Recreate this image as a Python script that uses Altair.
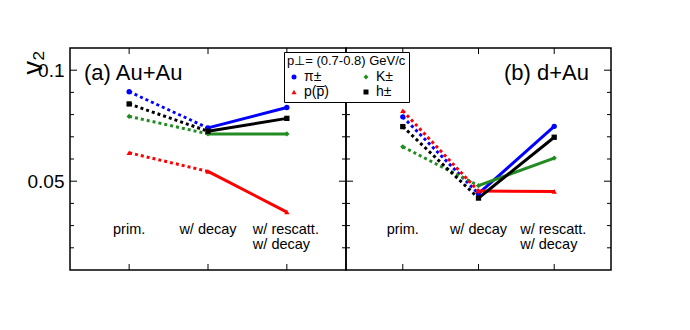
import altair as alt
import pandas as pd

stages = ["prim.", "w/ decay", "w/ rescatt."]
stage_text = ["prim.", "w/ decay", "w/ rescatt.\nw/ decay"]
species = ["π±", "K±", "p(p̅)", "h±"]
colors = ["#0000ff", "#228b22", "#ff0000", "#000000"]
shapes = ["circle", "diamond", "triangle-up", "square"]

auau_pi = [0.0903, 0.0740, 0.0832]
auau_K = [0.0792, 0.0713, 0.0713]
auau_p = [0.0628, 0.0544, 0.0361]
auau_h = [0.0848, 0.0725, 0.0783]

dau_pi = [0.0790, 0.0444, 0.0747]
dau_K = [0.0655, 0.0480, 0.0604]
dau_p = [0.0817, 0.0456, 0.0454]
dau_h = [0.0746, 0.0424, 0.0698]

y_ticks = [0.02, 0.03, 0.04, 0.05, 0.06, 0.07, 0.08, 0.09, 0.10]
y_major = [0.05, 0.10]

FONT = "Liberation Sans"
H = 222


def make_df(series):
    rows = []
    for sp, vals in zip(species, series):
        for st, v in zip(stages, vals):
            rows.append({"species": sp, "stage": st, "v2": v, "idx": stages.index(st)})
    return pd.DataFrame(rows)


df_a = make_df([auau_pi, auau_K, auau_p, auau_h])
df_b = make_df([dau_pi, dau_K, dau_p, dau_h])
stage_df = pd.DataFrame({"stage": stages, "label": stage_text})
tick_df = pd.DataFrame({"v2": y_ticks, "major": [v in y_major for v in y_ticks]})


def panel(df, W, title, title_x, show_axis, show_legend):
    xs = alt.X("stage:N", scale=alt.Scale(domain=stages, padding=0.5), axis=None)
    ysc = alt.Scale(domain=[0.01, 0.11], nice=False, zero=False)
    if show_axis:
        yax = alt.Axis(values=y_major, format="~g", ticks=False, domain=False, grid=False,
                       labelFont=FONT, labelFontSize=19, labelColor="black", labelPadding=6,
                       title="v₂", titleFont=FONT, titleFontSize=27, titleFontWeight="normal",
                       titleAngle=270, titleX=-37, titleY=14, titleAlign="center",
                       titleBaseline="middle", titleColor="black")
    else:
        yax = None
    ys = alt.Y("v2:Q", scale=ysc, axis=yax)
    if show_legend:
        leg = alt.Legend(title="p⊥= (0.7-0.8) GeV/c", orient="none", legendX=-62, legendY=4,
                         direction="horizontal", columns=2, columnPadding=30, rowPadding=1,
                         padding=3, strokeColor="black", fillColor="white", cornerRadius=0,
                         labelExpr="datum.label == 'π±' ? 'π±\u00a0\u00a0' : datum.label",
                         titleFont=FONT, titleFontSize=13, titleFontWeight="normal",
                         titleColor="black", titlePadding=2, labelFont=FONT, labelFontSize=14,
                         labelColor="black", symbolSize=25, labelOffset=3, symbolStrokeWidth=0)
    else:
        leg = None
    col = alt.Color("species:N", scale=alt.Scale(domain=species, range=colors), legend=leg)
    shp = alt.Shape("species:N", scale=alt.Scale(domain=species, range=shapes), legend=leg)

    base = alt.Chart(df)
    dashed = base.transform_filter("datum.idx <= 1").mark_line(strokeWidth=3, strokeDash=[3, 3]).encode(
        x=xs, y=ys, color=col, detail="species:N")
    solid = base.transform_filter("datum.idx >= 1").mark_line(strokeWidth=3).encode(
        x=xs, y=ys, color=col, detail="species:N")
    pts = base.mark_point(filled=True, size=28, opacity=1).encode(x=xs, y=ys, color=col, shape=shp)

    lab1 = alt.Chart(stage_df).transform_filter("datum.stage != 'w/ rescatt.'").mark_text(
        font=FONT, fontSize=14.5, baseline="top", align="center", color="black").encode(
        x=xs, y=alt.value(175), text="label:N")
    lab2 = alt.Chart(stage_df).transform_filter("datum.stage == 'w/ rescatt.'").mark_text(
        font=FONT, fontSize=14.5, baseline="top", align="left", dx=-34, lineBreak="\n",
        lineHeight=15, color="black").encode(
        x=xs, y=alt.value(175), text="label:N")

    top_t = alt.Chart(stage_df).mark_rule(color="black", strokeWidth=1).encode(
        x=xs, y=alt.value(0), y2=alt.value(6))
    bot_t = alt.Chart(stage_df).mark_rule(color="black", strokeWidth=1).encode(
        x=xs, y=alt.value(H - 6), y2=alt.value(H))
    lt_maj = alt.Chart(tick_df).transform_filter("datum.major").mark_rule(color="black").encode(
        y=ys, x=alt.value(0), x2=alt.value(7))
    lt_min = alt.Chart(tick_df).transform_filter("!datum.major").mark_rule(color="black").encode(
        y=ys, x=alt.value(0), x2=alt.value(4))
    rt_maj = alt.Chart(tick_df).transform_filter("datum.major").mark_rule(color="black").encode(
        y=ys, x=alt.value(W - 7), x2=alt.value(W))
    rt_min = alt.Chart(tick_df).transform_filter("!datum.major").mark_rule(color="black").encode(
        y=ys, x=alt.value(W - 4), x2=alt.value(W))

    ttl = alt.Chart(pd.DataFrame({"t": [title]})).mark_text(
        font=FONT, fontSize=22, align="left", baseline="alphabetic", color="black").encode(
        text="t:N", x=alt.value(title_x), y=alt.value(32))

    return alt.layer(dashed, solid, pts, top_t, bot_t, lt_maj, lt_min, rt_maj, rt_min,
                     lab1, lab2, ttl).properties(
        width=W, height=H, view=alt.ViewBackground(stroke="black", strokeWidth=1.5))


left = panel(df_a, 276, "(a) Au+Au", 14, True, False)
right = panel(df_b, 265, "(b) d+Au", 158, False, True)

chart = alt.hconcat(left, right, spacing=0, bounds="flush").resolve_scale(
    color="independent", shape="independent", y="independent", x="independent"
).properties(padding={"left": 10, "top": 38, "right": 5, "bottom": 5}).configure_view(
    stroke="black", strokeWidth=1.5
).configure(font=FONT)

chart.save("out.html", embed_options={"renderer": "svg", "actions": False})
